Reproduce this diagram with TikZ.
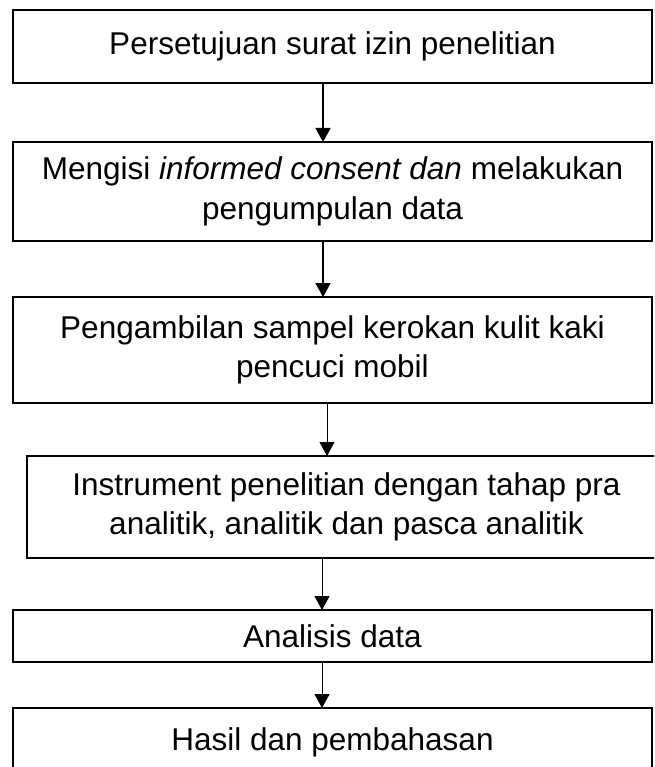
\documentclass[tikz,border=0pt]{standalone}
\usepackage{fontspec}
\setmainfont{Liberation Sans}
\usetikzlibrary{positioning,arrows.meta}

\begin{document}
\begin{tikzpicture}
        \tikzstyle{tahap}=[rectangle,draw=black,line width=1.5pt,minimum width=639pt,inner sep=0pt,outer sep=0pt,align=center,font=\fontsize{31.5pt}{39.5pt}\selectfont]
        \tikzstyle{panah}=[-{Triangle[width=15pt,length=14pt]},line width=1.8pt]
        \tikzstyle{panah_tipis}=[-{Triangle[width=15pt,length=14pt]},line width=1pt]
        \useasboundingbox (0,0) rectangle (654pt,-767pt);
        \clip (0,0) rectangle (654pt,-767pt);
        \node[tahap,minimum height=73pt] (tahap_1) at (332.5pt,-46.5pt) {Persetujuan surat izin penelitian};
        \node[tahap,minimum height=99pt] (tahap_2) [below=59pt of tahap_1] {Mengisi \textit{informed consent dan} melakukan\\pengumpulan data};
        \node[tahap,minimum height=106pt] (tahap_3) [below=56pt of tahap_2] {Pengambilan sampel kerokan kulit kaki\\pencuci mobil};
        \node[tahap,minimum height=102pt] (tahap_4) [below=53pt of tahap_3,xshift=14pt] {Instrument penelitian dengan tahap pra\\analitik, analitik dan pasca analitik};
        \node[tahap,minimum height=52pt] (tahap_5) [below=52pt of tahap_4,xshift=-14pt] {Analisis data};
        \node[tahap,minimum height=68pt] (tahap_6) [below=46pt of tahap_5] {Hasil dan pembahasan};
        \draw[panah] ([xshift=-9.5pt]tahap_1.south) -- ([xshift=-9.5pt]tahap_2.north);
        \draw[panah] ([xshift=-9.5pt]tahap_2.south) -- ([xshift=-9.5pt]tahap_3.north);
        \draw[panah_tipis] ([xshift=-5.5pt]tahap_3.south) -- ([xshift=-19.5pt]tahap_4.north);
        \draw[panah_tipis] ([xshift=-24.5pt]tahap_4.south) -- ([xshift=-10.5pt]tahap_5.north);
        \draw[panah_tipis] ([xshift=-10.5pt]tahap_5.south) -- ([xshift=-10.5pt]tahap_6.north);
    \end{tikzpicture}
\end{document}
